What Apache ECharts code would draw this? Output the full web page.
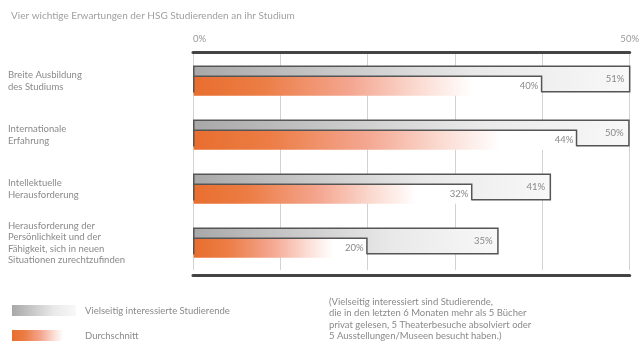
<!DOCTYPE html>
<html><head><meta charset="utf-8">
<script src="https://cdn.jsdelivr.net/npm/echarts@6/dist/echarts.min.js"></script>
<style>html,body{margin:0;padding:0;background:#fff}#c{width:642px;height:361px}</style>
</head><body><div id="c"></div>
<script>
const categories = [
  'Breite Ausbildung\ndes Studiums',
  'Internationale\nErfahrung',
  'Intellektuelle\nHerausforderung',
  'Herausforderung der\nPersönlichkeit und der\nFähigkeit, sich in neuen\nSituationen zurechtzufinden'
];
const interestedValues = [51, 50, 41, 35];
const averageValues = [40, 44, 32, 20];
const axisTickLabels = ['0%', '50%'];
const seriesNames = ['Vielseitig interessierte Studierende', 'Durchschnitt'];
const subtitle = 'Vier wichtige Erwartungen der HSG Studierenden an ihr Studium';
const footnote = '(Vielseitig interessiert sind Studierende,\ndie in den letzten 6 Monaten mehr als 5 Bücher\nprivat gelesen, 5 Theaterbesuche absolviert oder\n5 Ausstellungen/Museen besucht haben.)';

const FONT = 'Lato, "Open Sans", sans-serif';
const chart = echarts.init(document.getElementById('c'), null, {renderer: 'canvas'});

const grayFill = {type:'linear', x:0, y:0, x2:1, y2:0, colorStops:[
  {offset:0, color:'#a8a8a8'}, {offset:0.3, color:'#c6c6c6'},
  {offset:0.65, color:'#e9e9e9'}, {offset:1, color:'#f8f8f8'}]};
const orangeFill = {type:'linear', x:0, y:0, x2:1, y2:0, colorStops:[
  {offset:0, color:'#e86e2e'}, {offset:0.2, color:'#ec7d45'},
  {offset:0.45, color:'#f4a690'}, {offset:0.65, color:'#fbdcd3'}, {offset:0.8, color:'#ffffff'}, {offset:1, color:'#ffffff'}]};
const orangeBorder = {type:'linear', x:0, y:0, x2:0, y2:1, colorStops:[
  {offset:0, color:'#555'}, {offset:0.78, color:'#555'},
  {offset:0.82, color:'rgba(85,85,85,0)'}, {offset:1, color:'rgba(85,85,85,0)'}]};

chart.setOption({
  animation: false,
  textStyle: {fontFamily: FONT},
  title: {
    text: subtitle, left: 6, top: 6,
    textStyle: {fontSize: 10, fontWeight: 'normal', color: '#a0a0a0', fontFamily: FONT}
  },
  grid: {left: 193, right: 9, top: 54, bottom: 91, containLabel: false},
  xAxis: [{
    type: 'value', position: 'top', min: 0, max: 50, interval: 10, offset: 2,
    axisLine: {show: true, lineStyle: {color: '#444', width: 3}},
    axisTick: {show: false},
    splitLine: {show: true, lineStyle: {color: '#d2d2d2', width: 1}},
    axisLabel: {
      show: true, margin: 8, color: '#999', fontSize: 9.5, fontFamily: FONT,
      alignMinLabel: 'left', alignMaxLabel: 'center',
      formatter: function (v) { return v === 0 ? axisTickLabels[0] : (v === 50 ? axisTickLabels[1] : ''); }
    }
  }, {
    type: 'value', position: 'bottom', min: 0, max: 50, interval: 10, offset: 5,
    axisLine: {show: true, lineStyle: {color: '#444', width: 3}},
    axisTick: {show: false}, splitLine: {show: false}, axisLabel: {show: false}
  }],
  yAxis: {
    type: 'category', inverse: true, data: categories,
    axisLine: {show: false}, axisTick: {show: false},
    axisLabel: {align: 'left', margin: 185, color: '#8a8a8a', fontSize: 9.5, lineHeight: 11.5, fontFamily: FONT}
  },
  legend: {
    orient: 'vertical', left: 7, top: 300, itemWidth: 64, itemHeight: 11, itemGap: 14,
    icon: 'rect', data: seriesNames,
    itemStyle: {borderWidth: 0},
    textStyle: {color: '#8a8a8a', fontSize: 9.5, fontFamily: FONT, padding: [0, 0, 0, 4]}
  },
  graphic: [{
    type: 'text', left: 329, top: 296,
    style: {text: footnote, fill: '#8a8a8a', font: '9.5px ' + FONT, lineHeight: 11.5}
  }],
  series: [{
    name: seriesNames[0], type: 'bar', xAxisIndex: 0, data: interestedValues,
    barWidth: 27, barGap: '-63%',
    itemStyle: {color: grayFill, borderColor: '#555', borderWidth: 1.5},
    label: {show: true, position: 'insideRight', distance: 6, formatter: '{c}%', color: '#888', fontSize: 9.5, fontFamily: FONT}
  }, {
    name: seriesNames[1], type: 'bar', xAxisIndex: 0, data: averageValues,
    barWidth: 21, barGap: '-63%',
    itemStyle: {color: orangeFill, borderColor: orangeBorder, borderWidth: 1.5},
    label: {show: true, position: 'insideRight', distance: 4, formatter: '{c}%', color: '#888', fontSize: 9.5, fontFamily: FONT}
  }]
});
</script></body></html>
